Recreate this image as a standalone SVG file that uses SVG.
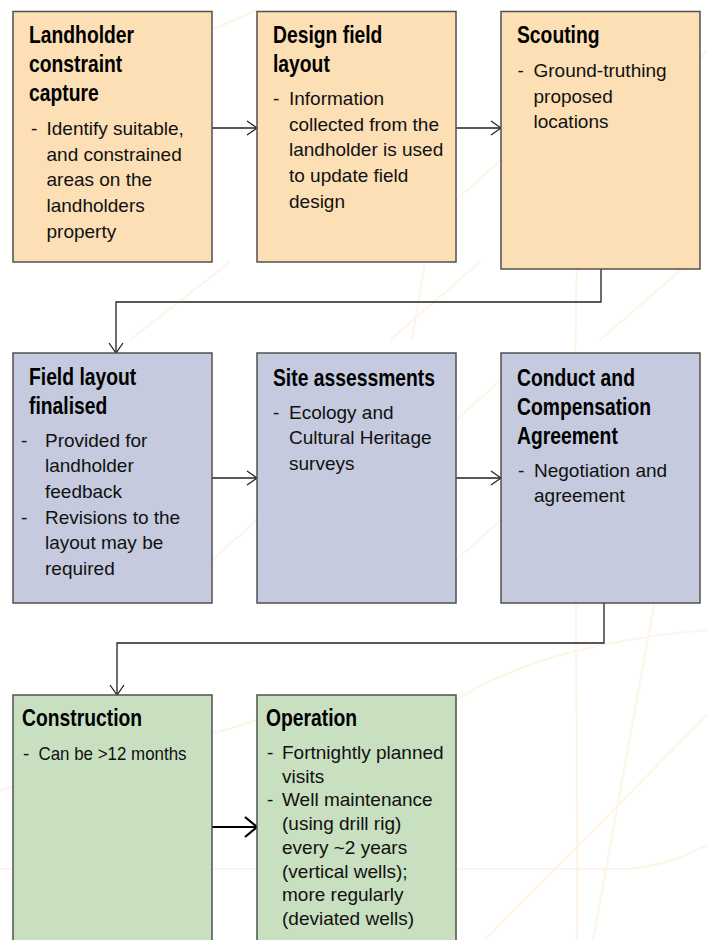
<svg xmlns="http://www.w3.org/2000/svg" width="707" height="940" viewBox="0 0 707 940">
<defs>
<style>
.bg{fill:none;stroke:#FEF5E8;stroke-width:2.2}
.box{stroke:#505050;stroke-width:1.5}
.o{fill:#FCDFB5}
.b{fill:#C5CADE}
.g{fill:#C8DFC0}
.t{font-family:"Liberation Sans",Arial,sans-serif;font-weight:bold;font-size:23px;fill:#000;transform-box:fill-box;transform-origin:0 0;transform:scaleX(0.84)}
.x{font-family:"Liberation Sans",Arial,sans-serif;font-size:19px;fill:#111}
.c{fill:none;stroke:#222;stroke-width:1.3}
.c2{fill:none;stroke:#000;stroke-width:2.2}
</style>
<marker id="ah" viewBox="0 0 12 16" refX="11" refY="8" markerWidth="12" markerHeight="16" markerUnits="userSpaceOnUse" orient="auto">
<path d="M1,1 L11,8 L1,15" fill="none" stroke="#222" stroke-width="1.3"/>
</marker>
<marker id="ah2" viewBox="0 0 14 22" refX="13" refY="11" markerWidth="14" markerHeight="22" markerUnits="userSpaceOnUse" orient="auto">
<path d="M1,1 L13,11 L1,21" fill="none" stroke="#000" stroke-width="2.2"/>
</marker>
</defs>
<rect width="707" height="940" fill="#fff"/>
<g id="watermark">
<path class="bg" d="M577,270 C572,420 578,600 577,940"/>
<path class="bg" d="M655,600 L593,940"/>
<path class="bg" d="M707,715 L485,940"/>
<path class="bg" d="M0,869 L630,869 C660,866 690,855 707,845"/>
<path class="bg" d="M130,340 L230,262"/>
<path class="bg" d="M390,340 L480,262"/>
<path class="bg" d="M412,340 L425,262"/>
<path class="bg" d="M600,340 L690,262"/>
<path class="bg" d="M0,790 C100,760 200,740 257,720"/>
<path class="bg" d="M456,700 C520,660 600,640 707,630"/>
<path class="bg" d="M212,560 L257,520"/>
<path class="bg" d="M456,420 L501,380"/>
<path class="bg" d="M456,560 L501,520"/>
<path class="bg" d="M212,30 L257,10"/>
<path class="bg" d="M456,200 L501,160"/>
<path class="bg" d="M700,60 L707,50"/>
</g>
<g id="connectors">
<line class="c" x1="212" y1="128" x2="257" y2="128" marker-end="url(#ah)"/>
<line class="c" x1="456" y1="128" x2="501" y2="128" marker-end="url(#ah)"/>
<path class="c" d="M601,269 V302 H116 V353" marker-end="url(#ah)"/>
<line class="c" x1="212" y1="478" x2="257" y2="478" marker-end="url(#ah)"/>
<line class="c" x1="456" y1="478" x2="501" y2="478" marker-end="url(#ah)"/>
<path class="c" d="M604,603 V643 H117 V695" marker-end="url(#ah)"/>
<line class="c2" x1="212" y1="827" x2="257" y2="827" marker-end="url(#ah2)"/>
</g>
<g id="landholder-constraint-capture">
<rect class="box o" x="13" y="11.5" width="199" height="250.5"/>
<text class="t" x="29" y="43.3">Landholder</text>
<text class="t" x="29" y="72.3">constraint</text>
<text class="t" x="29" y="101.3">capture</text>
<text class="x" x="31" y="135">-</text>
<text class="x" x="46.5" y="135">Identify suitable,</text>
<text class="x" x="46.5" y="160.7">and constrained</text>
<text class="x" x="46.5" y="186.4">areas on the</text>
<text class="x" x="46.5" y="212">landholders</text>
<text class="x" x="46.5" y="237.7">property</text>
</g>
<g id="design-field-layout">
<rect class="box o" x="257" y="11.5" width="199" height="250.5"/>
<text class="t" x="273" y="43.3">Design field</text>
<text class="t" x="273" y="72.3">layout</text>
<text class="x" x="273" y="105">-</text>
<text class="x" x="289" y="105">Information</text>
<text class="x" x="289" y="130.7">collected from the</text>
<text class="x" x="289" y="156.4">landholder is used</text>
<text class="x" x="289" y="182">to update field</text>
<text class="x" x="289" y="207.7">design</text>
</g>
<g id="scouting">
<rect class="box o" x="501" y="11.5" width="199" height="257.5"/>
<text class="t" x="517" y="43.3">Scouting</text>
<text class="x" x="517.5" y="77">-</text>
<text class="x" x="533.5" y="77">Ground-truthing</text>
<text class="x" x="533.5" y="102.7">proposed</text>
<text class="x" x="533.5" y="128.4">locations</text>
</g>
<g id="field-layout-finalised">
<rect class="box b" x="13" y="353" width="199" height="250"/>
<text class="t" x="29" y="385">Field layout</text>
<text class="t" x="29" y="414">finalised</text>
<text class="x" x="21" y="446.5">-</text>
<text class="x" x="45" y="446.5">Provided for</text>
<text class="x" x="45" y="472.2">landholder</text>
<text class="x" x="45" y="497.9">feedback</text>
<text class="x" x="21" y="523.6">-</text>
<text class="x" x="45" y="523.6">Revisions to the</text>
<text class="x" x="45" y="549.3">layout may be</text>
<text class="x" x="45" y="575">required</text>
</g>
<g id="site-assessments">
<rect class="box b" x="257" y="353" width="199" height="250"/>
<text class="t" x="273" y="386">Site assessments</text>
<text class="x" x="273" y="418.5">-</text>
<text class="x" x="289" y="418.5">Ecology and</text>
<text class="x" x="289" y="444.2">Cultural Heritage</text>
<text class="x" x="289" y="469.9">surveys</text>
</g>
<g id="conduct-compensation-agreement">
<rect class="box b" x="501" y="353" width="199" height="250"/>
<text class="t" x="517" y="386">Conduct and</text>
<text class="t" x="517" y="415">Compensation</text>
<text class="t" x="517" y="444">Agreement</text>
<text class="x" x="518" y="476.5">-</text>
<text class="x" x="534" y="476.5">Negotiation and</text>
<text class="x" x="534" y="502.2">agreement</text>
</g>
<g id="construction">
<rect class="box g" x="13" y="695" width="199" height="270"/>
<text class="t" x="22" y="726.5">Construction</text>
<text class="x" x="23" y="760">-</text>
<text class="x" x="38.5" y="760" textLength="148" lengthAdjust="spacingAndGlyphs">Can be &gt;12 months</text>
</g>
<g id="operation">
<rect class="box g" x="257" y="695" width="199" height="270"/>
<text class="t" x="266" y="726.5">Operation</text>
<text class="x" x="267" y="759">-</text>
<text class="x" x="282" y="759">Fortnightly planned</text>
<text class="x" x="282" y="782.7">visits</text>
<text class="x" x="267" y="806.4">-</text>
<text class="x" x="282" y="806.4">Well maintenance</text>
<text class="x" x="282" y="830.1">(using drill rig)</text>
<text class="x" x="282" y="853.8">every ~2 years</text>
<text class="x" x="282" y="877.5">(vertical wells);</text>
<text class="x" x="282" y="901.2">more regularly</text>
<text class="x" x="282" y="924.9">(deviated wells)</text>
</g>
</svg>
